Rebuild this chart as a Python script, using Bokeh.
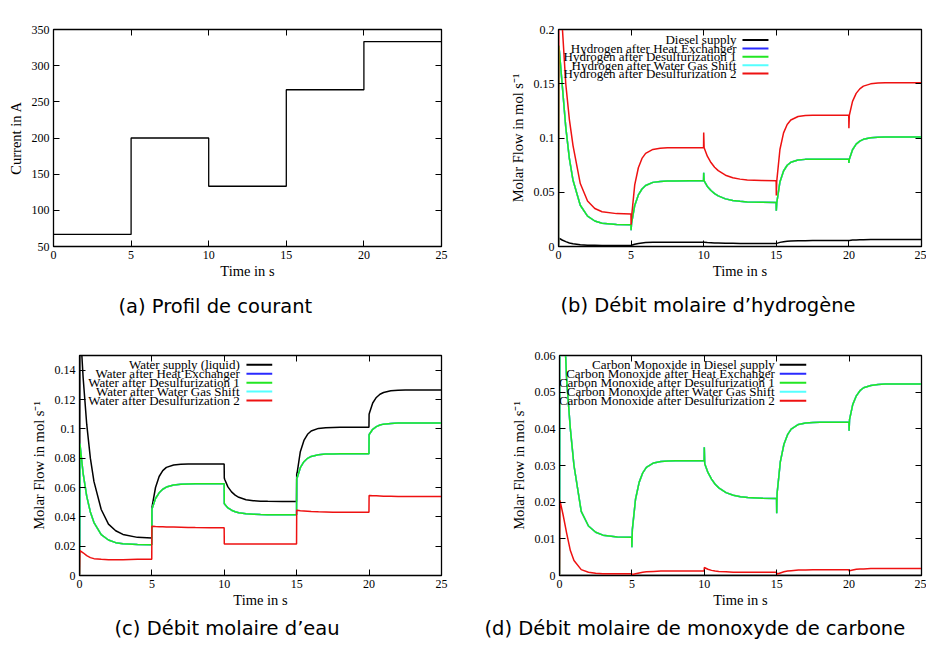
from bokeh.plotting import figure
from bokeh.models import Range1d, FixedTicker, LinearAxis, Label, Arrow, CustomJSTickFormatter
from bokeh.layouts import column, row
from bokeh.embed import file_html
from bokeh.resources import INLINE

# ---------------- data ----------------
T = [0, 0.03, 0.25, 0.5, 0.75, 1.0, 1.5, 2.0, 2.5, 3.0, 4.0, 4.99,
     5.0, 5.03, 5.25, 5.5, 5.75, 6.0, 6.5, 7.0, 7.5, 8.0, 9.0, 9.99,
     10.0, 10.03, 10.25, 10.5, 10.75, 11.0, 11.5, 12.0, 12.5, 13.0, 14.0, 14.99,
     15.0, 15.03, 15.25, 15.5, 15.75, 16.0, 16.5, 17.0, 17.5, 18.0, 19.0, 19.99,
     20.0, 20.03, 20.25, 20.5, 20.75, 21.0, 21.5, 22.0, 22.5, 23.0, 24.0, 25.0]

step_t = [0, 5, 10, 15, 20, 25]
current = [66.7, 200.0, 133.3, 266.7, 333.3, 333.3]

h2_diesel = [0, 0.0078, 0.006, 0.0045, 0.0033, 0.0025, 0.0016, 0.0012, 0.0011, 0.001, 0.001, 0.001,
             0.001, 0.0011, 0.0021, 0.0028, 0.0033, 0.0036, 0.0039, 0.004, 0.004, 0.004, 0.004, 0.004,
             0.004, 0.004, 0.0037, 0.0035, 0.0033, 0.0032, 0.003, 0.0029, 0.0028, 0.0028, 0.0028, 0.0028,
             0.0028, 0.0029, 0.0038, 0.0044, 0.0048, 0.0051, 0.0053, 0.0054, 0.0055, 0.0055, 0.0055, 0.0055,
             0.0055, 0.0056, 0.0059, 0.0061, 0.0062, 0.0063, 0.0064, 0.0065, 0.0065, 0.0065, 0.0065, 0.0065]
h2_ds1 = [0, 0.185, 0.15, 0.11, 0.081, 0.061, 0.038, 0.028, 0.0235, 0.0215, 0.0203, 0.020,
          0.015, 0.021, 0.0378, 0.0475, 0.053, 0.0562, 0.0591, 0.060, 0.0603, 0.0604, 0.0605, 0.0605,
          0.068, 0.0605, 0.0554, 0.0516, 0.0488, 0.0467, 0.0439, 0.0424, 0.0416, 0.0411, 0.0407, 0.0406,
          0.033, 0.040, 0.0595, 0.0696, 0.0749, 0.0776, 0.0797, 0.0803, 0.0804, 0.0805, 0.0805, 0.0805,
          0.077, 0.0805, 0.0892, 0.0943, 0.0971, 0.0988, 0.1003, 0.1008, 0.1009, 0.101, 0.101, 0.101]
h2_hx = h2_ds1
h2_wgs = h2_ds1
h2_ds2 = [0, 0.26, 0.205, 0.15, 0.117, 0.093, 0.058, 0.042, 0.035, 0.032, 0.0303, 0.030,
          0.020, 0.027, 0.0568, 0.0726, 0.0812, 0.0858, 0.0895, 0.0906, 0.0909, 0.091, 0.091, 0.091,
          0.105, 0.091, 0.0832, 0.0774, 0.0731, 0.0699, 0.0657, 0.0634, 0.0621, 0.0614, 0.0608, 0.0606,
          0.047, 0.060, 0.0894, 0.1047, 0.1125, 0.1166, 0.1198, 0.1207, 0.1209, 0.121, 0.121, 0.121,
          0.109, 0.121, 0.1338, 0.1411, 0.1453, 0.1478, 0.1499, 0.1506, 0.1509, 0.151, 0.151, 0.151]

w_supply = [0, 0.173, 0.135, 0.103, 0.080, 0.064, 0.045, 0.035, 0.0305, 0.028, 0.026, 0.0255,
            0.046, 0.048, 0.060, 0.0675, 0.0715, 0.0737, 0.0753, 0.0758, 0.076, 0.076, 0.076, 0.076,
            0.0665, 0.0655, 0.0604, 0.057, 0.0548, 0.0533, 0.0517, 0.051, 0.0507, 0.0506, 0.0505, 0.0505,
            0.069, 0.070, 0.0844, 0.0921, 0.0963, 0.0985, 0.1003, 0.1008, 0.1009, 0.101, 0.101, 0.101,
            0.110, 0.111, 0.1176, 0.1214, 0.1236, 0.1248, 0.1259, 0.1263, 0.1264, 0.1265, 0.1265, 0.1265]
w_ds1 = [0, 0.0897, 0.0697, 0.054, 0.0433, 0.0361, 0.0279, 0.0242, 0.0224, 0.0217, 0.0211, 0.021,
         0.045, 0.046, 0.0525, 0.0564, 0.0588, 0.0603, 0.0617, 0.0622, 0.0624, 0.0625, 0.0625, 0.0625,
         0.049, 0.0485, 0.0461, 0.0445, 0.0435, 0.0428, 0.0421, 0.0418, 0.0416, 0.0415, 0.0415, 0.0415,
         0.066, 0.0665, 0.0735, 0.0776, 0.0799, 0.0812, 0.0824, 0.0828, 0.0829, 0.083, 0.083, 0.083,
         0.096, 0.0965, 0.0997, 0.1015, 0.1026, 0.1032, 0.1037, 0.1039, 0.104, 0.104, 0.104, 0.104]
w_hx = w_ds1
w_wgs = w_ds1
w_ds2 = [0, 0.017, 0.0155, 0.0135, 0.0122, 0.0115, 0.011, 0.0108, 0.0108, 0.0108, 0.011, 0.011,
         0.0335, 0.0335, 0.0334, 0.0333, 0.0332, 0.0331, 0.033, 0.0329, 0.0328, 0.0327, 0.0326, 0.0325,
         0.0215, 0.0215, 0.0215, 0.0215, 0.0215, 0.0215, 0.0215, 0.0215, 0.0215, 0.0215, 0.0215, 0.0215,
         0.0445, 0.0445, 0.0442, 0.044, 0.0438, 0.0436, 0.0434, 0.0433, 0.0432, 0.0432, 0.0432, 0.0432,
         0.0545, 0.0545, 0.0544, 0.0543, 0.0542, 0.0541, 0.054, 0.0539, 0.0538, 0.0538, 0.0538, 0.0538]

co_diesel = [0, 0, 0, 0, 0, 0, 0, 0, 0, 0, 0, 0,
             0, 0, 0, 0, 0, 0, 0, 0, 0, 0, 0, 0,
             0, 0, 0, 0, 0, 0, 0, 0, 0, 0, 0, 0,
             0, 0, 0, 0, 0, 0, 0, 0, 0, 0, 0, 0,
             0, 0, 0, 0, 0, 0, 0, 0, 0, 0, 0, 0]
co_ds1 = [0, 0.10, 0.075, 0.053, 0.040, 0.030, 0.0175, 0.0135, 0.0118, 0.011, 0.0105, 0.0104,
          0.0077, 0.0125, 0.0208, 0.0254, 0.028, 0.0295, 0.0307, 0.0311, 0.0312, 0.0313, 0.0313, 0.0313,
          0.035, 0.0305, 0.0281, 0.0263, 0.0249, 0.0239, 0.0226, 0.0219, 0.0215, 0.0213, 0.0211, 0.021,
          0.017, 0.0225, 0.031, 0.0358, 0.0384, 0.0399, 0.0412, 0.0416, 0.0417, 0.0418, 0.0418, 0.0418,
          0.0395, 0.0425, 0.0466, 0.049, 0.0504, 0.0512, 0.0518, 0.0521, 0.0522, 0.0522, 0.0522, 0.0522]
co_hx = co_ds1
co_wgs = co_ds1
co_ds2 = [0, 0.0205, 0.0165, 0.0114, 0.0068, 0.0041, 0.0016, 0.0009, 0.0006, 0.0005, 0.0005, 0.0005,
          0.0002, 0.0003, 0.0005, 0.0007, 0.0009, 0.001, 0.0011, 0.0012, 0.0012, 0.0012, 0.0012, 0.0012,
          0.0022, 0.0021, 0.0017, 0.0014, 0.0012, 0.0011, 0.001, 0.0009, 0.0009, 0.0009, 0.0009, 0.0009,
          0.0003, 0.0004, 0.0007, 0.001, 0.0012, 0.0013, 0.0015, 0.0015, 0.0016, 0.0016, 0.0016, 0.0016,
          0.0012, 0.0013, 0.0015, 0.0017, 0.0018, 0.0018, 0.0019, 0.0019, 0.0019, 0.0019, 0.0019, 0.0019]

x_ticks = [0, 5, 10, 15, 20, 25]
a_yticks = [50, 100, 150, 200, 250, 300, 350]
b_yticks = [0, 0.05, 0.1, 0.15, 0.2]
c_yticks = [0, 0.02, 0.04, 0.06, 0.08, 0.1, 0.12, 0.14]
d_yticks = [0, 0.01, 0.02, 0.03, 0.04, 0.05, 0.06]

b_labels = ["Diesel supply", "Hydrogen after Heat Exchanger", "Hydrogen after Desulfurization 1",
            "Hydrogen after Water Gas Shift", "Hydrogen after Desulfurization 2"]
c_labels = ["Water supply (liquid)", "Water after Heat Exchanger", "Water after Desulfurization 1",
            "Water after Water Gas Shift", "Water after Desulfurization 2"]
d_labels = ["Carbon Monoxide in Diesel supply", "Carbon Monoxide after Heat Exchanger",
            "Carbon Monoxide after Desulfurization 1", "Carbon Monoxide after Water Gas Shift",
            "Carbon Monoxide after Desulfurization 2"]

captions = ["(a) Profil de courant", "(b) Débit molaire d\u2019hydrogène",
            "(c) Débit molaire d\u2019eau", "(d) Débit molaire de monoxyde de carbone"]

# ---------------- styling ----------------
COLORS = ["#000000", "#2a2aff", "#22e622", "#55ffff", "#ee1111"]
DRAW_ORDER = [0, 1, 3, 2, 4]
SERIF = "Liberation Serif"
SANS = "DejaVu Sans"
TICK_FS = "12px"
LABEL_FS = "14.5px"
LEG_FS = "13px"
CAP_FS = "19.5px"

fmt = CustomJSTickFormatter(code="return String(+tick.toFixed(4));")


def make_fig(w, h, mb, ylim, yticks, ylabel, caption, cap_offset, cap_standoff):
    p = figure(width=w, height=h, x_range=Range1d(0, 25), y_range=Range1d(*ylim),
               output_backend="svg", toolbar_location=None,
               title=caption, title_location="below",
               min_border_left=mb[0], min_border_right=mb[1],
               min_border_top=mb[2], min_border_bottom=mb[3])
    p.grid.visible = False
    p.outline_line_color = "black"
    p.outline_line_width = 1.3
    p.background_fill_color = "white"
    p.border_fill_color = "white"

    p.title.text_font = SANS
    p.title.text_font_size = CAP_FS
    p.title.text_font_style = "normal"
    p.title.text_color = "black"
    p.title.align = "left"
    p.title.offset = cap_offset
    p.title.standoff = cap_standoff

    p.xaxis.ticker = FixedTicker(ticks=x_ticks)
    p.yaxis.ticker = FixedTicker(ticks=yticks)
    p.yaxis.formatter = fmt
    p.xaxis.axis_label = "Time in s"
    p.yaxis.axis_label = ylabel
    for ax in p.axis:
        ax.major_tick_in = 6
        ax.major_tick_out = 0
        ax.minor_tick_line_color = None
        ax.axis_line_color = "black"
        ax.major_tick_line_color = "black"
        ax.major_label_text_font = SERIF
        ax.major_label_text_font_size = TICK_FS
        ax.major_label_text_color = "black"
        ax.axis_label_text_font = SERIF
        ax.axis_label_text_font_size = LABEL_FS
        ax.axis_label_text_font_style = "normal"
        ax.axis_label_text_color = "black"
    p.xaxis.major_label_standoff = 4
    p.xaxis.axis_label_standoff = 1
    p.yaxis.major_label_standoff = 4
    p.yaxis.axis_label_standoff = 5

    # mirrored inward ticks on top and right (gnuplot style), without labels
    top = LinearAxis(ticker=FixedTicker(ticks=x_ticks), major_label_text_font_size="1px",
                     major_label_text_color=None, major_label_standoff=0,
                     major_tick_in=6, major_tick_out=0,
                     minor_tick_line_color=None, axis_line_color="black")
    right = LinearAxis(ticker=FixedTicker(ticks=yticks), major_label_text_font_size="1px",
                       major_label_text_color=None, major_label_standoff=0,
                       major_tick_in=6, major_tick_out=0,
                       minor_tick_line_color=None, axis_line_color="black")
    p.add_layout(top, "above")
    p.add_layout(right, "right")
    return p


def add_legend(p, labels, text_x, line_x0, line_x1, ys):
    for lab, col, y in zip(labels, COLORS, ys):
        p.add_layout(Label(x=text_x, y=y, text=lab, text_align="right", text_baseline="middle",
                           text_font=SERIF, text_font_size=LEG_FS, text_color="black"))
        p.add_layout(Arrow(x_start=line_x0, y_start=y, x_end=line_x1, y_end=y, end=None,
                           line_color=col, line_width=2))


def add_series(p, series):
    for i in DRAW_ORDER:
        p.line(T, series[i], line_color=COLORS[i], line_width=1.5)


MOLAR = "Molar Flow in mol s\u207b\u00b9"

# (a)
pa = make_fig(450, 338, (53, 9, 15, 92), (50, 350), a_yticks, "Current in A",
              captions[0], 65, 23)
pa.step(step_t, current, mode="after", line_color="black", line_width=1.3)

# (b)
pb = make_fig(476, 338, (108, 5, 29, 90), (0, 0.2), b_yticks, MOLAR,
              captions[1], 2, 21)
add_series(pb, [h2_diesel, h2_hx, h2_ds1, h2_wgs, h2_ds2])
add_legend(pb, b_labels, 12.26, 12.67, 14.46, [0.1904, 0.1826, 0.1749, 0.1671, 0.1594])

# (c)
pc = make_fig(450, 306, (79, 9, 17, 68), (0, 0.15), c_yticks, MOLAR,
              captions[2], 35, 8)
add_series(pc, [w_supply, w_hx, w_ds1, w_wgs, w_ds2])
add_legend(pc, c_labels, 11.07, 11.53, 13.31, [0.1437, 0.1376, 0.1315, 0.1254, 0.1193])

# (d)
pd = make_fig(476, 306, (109, 5, 17, 69), (0, 0.06), d_yticks, MOLAR,
              captions[3], -75, 8)
add_series(pd, [co_diesel, co_hx, co_ds1, co_wgs, co_ds2])
add_legend(pd, d_labels, 14.87, 15.21, 17.04, [0.05746, 0.0550, 0.05255, 0.0501, 0.04764])

layout = column(row(pa, pb, spacing=0), row(pc, pd, spacing=0), spacing=0)

open("out.html", "w").write(file_html(layout, INLINE))
